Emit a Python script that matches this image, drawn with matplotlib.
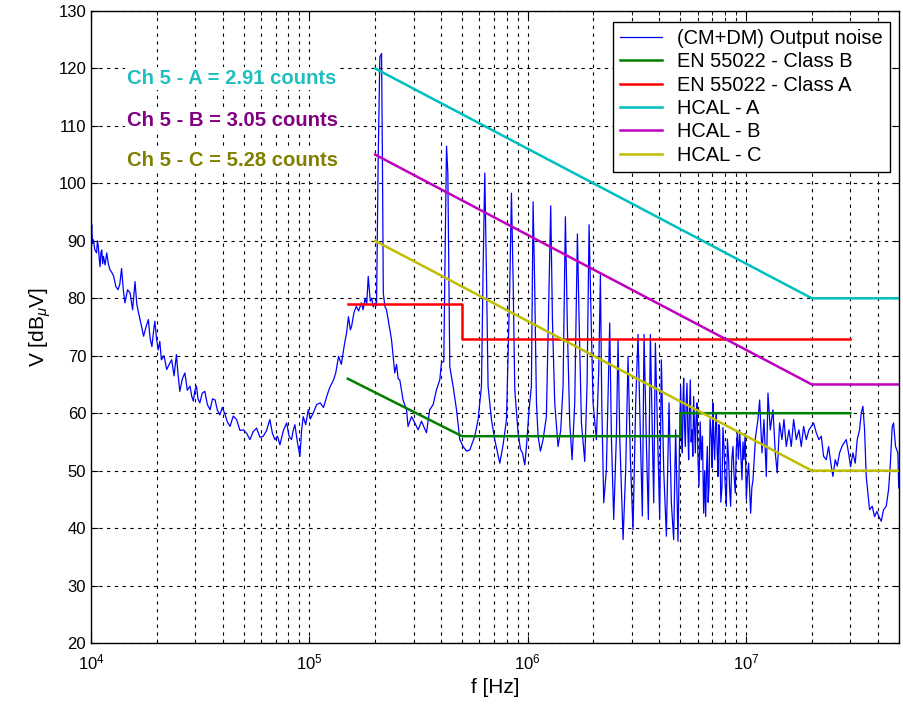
#!/usr/bin/env python3

# Output noise spectrum of the power supply against EN 55022 and HCAL limits.

import matplotlib
matplotlib.use('Agg')
import matplotlib.pyplot as plt

plt.rcParams['font.family'] = ['Liberation Sans', 'DejaVu Sans']
plt.rcParams['mathtext.fontset'] = 'custom'
plt.rcParams['mathtext.rm'] = 'Liberation Sans'
plt.rcParams['mathtext.it'] = 'Liberation Sans:italic'

# measured (CM+DM) output noise, frequency in kHz and level in dBuV
# (ten values per line, lines of both lists belong together)
noise_khz = [
    10.0, 10.07, 10.15, 10.25, 10.4, 10.6, 10.7, 10.8, 10.9, 11.0,
    11.1, 11.2, 11.3, 11.4, 11.6, 11.8, 12.0, 12.2, 12.45, 12.7,
    13.0, 13.3, 13.55, 13.8, 14.05, 14.3, 14.7, 15.1, 15.3, 15.5,
    15.7, 15.9, 16.2, 16.5, 16.95, 17.4, 17.85, 18.3, 18.65, 19.0,
    19.3, 19.6, 19.95, 20.3, 20.65, 21.0, 21.6, 22.2, 22.8, 23.4,
    24.0, 24.6, 25.0, 25.5, 26.2, 26.9, 27.6, 28.4, 28.9, 29.4,
    29.9, 30.4, 30.9, 31.5, 32.3, 33.2, 34.1, 35.1, 36.0, 37.0,
    37.9, 38.9, 39.9, 41.0, 42.1, 43.3, 44.8, 46.4, 48.1, 49.8,
    51.6, 53.4, 55.3, 57.3, 59.4, 61.5, 63.7, 65.9, 67.7, 69.5,
    71.4, 73.3, 76.0, 78.7, 80.7, 82.8, 84.3, 85.8, 88.1, 90.5,
    92.1, 93.7, 96.2, 98.8, 101, 104, 108, 112, 116, 120,
    124, 129, 132, 136, 140, 145, 148, 151, 154, 156,
    160, 164, 168, 173, 176, 180, 183, 186, 190, 193,
    196, 200, 203, 206.5, 210.2, 214, 216, 218, 221.6, 225.4,
    229.5, 237.7, 241.8, 246, 250.6, 255, 259.4, 268.5, 278.6, 283,
    293.6, 304, 314.8, 326, 343.6, 355.7, 368.7, 382, 395.5, 402.7,
    412.6, 418.3, 424.6, 430.5, 436.5, 439.5, 455, 471.8, 488.5, 505.8,
    524.2, 542.8, 572, 592.3, 613.8, 624.4, 635.6, 647, 658, 682,
    706, 744.7, 771, 799, 827, 842, 857, 872, 903, 926,
    945.5, 969, 986, 1014, 1039, 1058, 1076, 1096, 1115, 1143,
    1175, 1217, 1252, 1274, 1297, 1329, 1376, 1416, 1451, 1487,
    1519, 1557, 1596, 1641, 1688, 1718, 1761, 1824, 1869, 1909,
    1943, 1991, 2062, 2114, 2151, 2182, 2228, 2291, 2340, 2373,
    2415, 2475, 2546, 2591, 2637, 2732, 2809, 2879, 2951, 3034,
    3121, 3199, 3279, 3348, 3408, 3493, 3567, 3643, 3721, 3774,
    3841, 3950, 4020, 4091, 4193, 4312, 4435, 4546, 4657, 4756,
    4875, 4961, 5013, 5060, 5104, 5140, 5176, 5220, 5267, 5310,
    5360, 5410, 5455, 5500, 5552, 5600, 5650, 5700, 5750, 5800,
    5852, 5900, 5957, 6020, 6083, 6160, 6235, 6310, 6390, 6460,
    6526, 6580, 6642, 6700, 6760, 6840, 6928, 6990, 7051, 7110,
    7175, 7240, 7303, 7370, 7432, 7500, 7564, 7660, 7752, 7830,
    7917, 8010, 8114, 8210, 8316, 8400, 8493, 8600, 8705, 8810,
    8921, 9010, 9111, 9220, 9339, 9450, 9572, 9670, 9775, 9900,
    10020, 10140, 10270, 10380, 10490, 10620, 10750, 11050, 11330, 11530,
    11820, 12070, 12370, 12590, 12900, 13270, 13600, 13880, 14230, 14590,
    14900, 15270, 15710, 16100, 16500, 16970, 17450, 17890, 18330, 18860,
    19390, 19880, 20370, 20950, 21550, 22090, 22630, 23280, 23860, 24540,
    24970, 25590, 26140, 26790, 27460, 28040, 28740, 29450, 30080, 30830,
    31600, 32270, 33070, 33660, 34260, 34870, 35480, 36110, 36750, 37800,
    38740, 39700, 40550, 41560, 42590, 43810, 44900, 45700, 46670, 47330,
    48340, 49540, 50000,
]
noise_dbuv = [
    91.0, 92.8, 89.5, 90.2, 88.5, 87.9, 90.0, 89.0, 87.0, 85.5,
    88.0, 88.4, 86.0, 87.3, 85.8, 87.9, 86.0, 85.0, 84.5, 83.8,
    82.0, 81.5, 82.5, 85.2, 81.5, 79.2, 81.5, 80.9, 79.5, 78.0,
    80.5, 82.9, 79.0, 77.5, 75.5, 73.4, 75.0, 76.3, 73.0, 71.6,
    74.0, 76.0, 73.0, 71.0, 72.5, 69.3, 70.0, 67.6, 68.5, 69.3,
    66.5, 70.2, 67.0, 63.8, 66.0, 67.0, 64.0, 64.7, 63.0, 62.1,
    64.0, 64.7, 62.5, 61.8, 63.5, 63.8, 61.5, 60.6, 62.5, 62.3,
    60.5, 59.7, 61.0, 59.9, 58.5, 57.7, 59.5, 58.9, 57.0, 57.1,
    56.5, 55.4, 56.8, 57.4, 55.8, 56.0, 57.0, 58.9, 56.5, 55.4,
    56.0, 54.5, 57.0, 58.3, 56.0, 55.4, 57.0, 58.0, 55.0, 52.5,
    57.0, 59.4, 58.0, 60.6, 59.0, 60.0, 61.5, 61.8, 61.0, 62.9,
    64.5, 65.8, 67.0, 69.9, 68.5, 72.2, 74.0, 76.8, 74.5, 75.1,
    77.5, 78.6, 77.8, 79.2, 78.0, 80.0, 79.0, 83.8, 79.5, 80.0,
    78.5, 79.2, 78.7, 104.0, 122.0, 122.6, 104.0, 80.9, 78.6, 78.0,
    76.3, 72.8, 69.9, 67.0, 68.5, 66.0, 65.8, 62.3, 60.6, 57.7,
    59.4, 58.3, 57.1, 58.6, 56.6, 60.6, 61.5, 64.1, 65.8, 68.8,
    69.0, 88.0, 106.5, 101.8, 80.0, 68.1, 64.7, 60.6, 55.4, 54.2,
    53.4, 53.6, 56.0, 58.9, 64.7, 85.0, 101.8, 84.0, 64.7, 58.9,
    55.4, 51.3, 54.5, 58.9, 82.0, 98.3, 83.0, 64.1, 56.6, 53.7,
    53.1, 51.0, 54.2, 60.6, 64.7, 96.8, 82.0, 61.8, 56.0, 53.4,
    55.4, 59.4, 82.6, 96.1, 76.3, 61.8, 54.2, 57.1, 64.7, 94.2,
    74.5, 58.3, 51.9, 61.8, 91.2, 76.3, 58.3, 51.6, 65.2, 92.8,
    79.2, 61.8, 55.4, 67.6, 84.1, 61.8, 44.4, 50.2, 65.2, 75.7,
    56.0, 41.5, 56.0, 72.8, 56.0, 38.0, 50.2, 69.9, 52.0, 39.7,
    61.8, 73.7, 56.0, 42.1, 73.7, 54.8, 41.5, 73.7, 56.0, 44.4,
    72.2, 53.0, 41.5, 69.3, 50.2, 38.6, 61.8, 44.4, 38.0, 57.1,
    37.7, 56.0, 64.7, 56.0, 53.1, 62.0, 66.1, 58.0, 54.2, 61.5,
    65.2, 57.0, 51.9, 60.5, 65.8, 55.0, 57.1, 52.5, 62.9, 58.0,
    53.1, 59.0, 61.8, 52.0, 47.3, 58.5, 51.9, 56.0, 42.6, 50.0,
    42.0, 49.5, 54.2, 44.5, 47.3, 59.0, 56.0, 50.5, 61.8, 55.5,
    51.9, 57.5, 60.0, 53.5, 49.0, 58.0, 57.1, 44.5, 47.3, 57.5,
    54.2, 48.0, 43.8, 55.5, 51.9, 47.0, 43.8, 52.0, 54.2, 49.0,
    46.1, 53.5, 56.6, 52.0, 57.1, 53.0, 48.4, 55.0, 51.9, 56.5,
    45.0, 49.0, 51.3, 46.5, 42.6, 47.0, 48.4, 56.0, 58.9, 62.3,
    53.1, 58.9, 49.0, 63.5, 57.1, 60.6, 53.1, 49.6, 58.3, 55.4,
    58.9, 54.2, 57.1, 54.2, 58.9, 55.4, 57.1, 54.2, 57.7, 55.4,
    57.1, 57.7, 58.3, 56.6, 55.4, 56.0, 52.5, 51.9, 54.2, 50.8,
    49.0, 51.9, 50.8, 53.1, 54.2, 54.8, 55.4, 53.1, 50.7, 53.1,
    51.3, 55.4, 57.1, 60.0, 61.2, 57.1, 49.0, 46.1, 43.2, 43.8,
    42.0, 42.9, 42.0, 41.2, 43.2, 43.8, 46.7, 50.8, 57.7, 58.3,
    54.2, 53.1, 47.0,
]

# EN 55022 conducted limits (Hz, dBuV)
class_b_hz = [150e3, 500e3, 5e6, 5e6, 30e6]
class_b_db = [66, 56, 56, 60, 60]
class_a_hz = [150e3, 500e3, 500e3, 30e6]
class_a_db = [79, 79, 73, 73]

# HCAL limits (Hz, dBuV)
hcal_hz = [200e3, 20e6, 50e6]
hcal_a_db = [120, 80, 80]
hcal_b_db = [105, 65, 65]
hcal_c_db = [90, 50, 50]

counts_labels = ['Ch 5 - A = 2.91 counts', 'Ch 5 - B = 3.05 counts', 'Ch 5 - C = 5.28 counts']
counts_y = [118.3, 111.0, 103.9]
counts_colors = ['#1fbfbf', '#800080', '#808000']


def main(output='out.png'):
    fig = plt.figure(figsize=(9.04, 7.06), dpi=100)
    ax = fig.add_axes([0.1007, 0.0892, 0.8935, 0.8952])

    noise_hz = [f * 1e3 for f in noise_khz]
    ax.plot(noise_hz, noise_dbuv, color=(0, 0, 1), lw=0.9, label='(CM+DM) Output noise')
    ax.plot(class_b_hz, class_b_db, color=(0, 0.5, 0), lw=1.8, label='EN 55022 - Class B')
    ax.plot(class_a_hz, class_a_db, color=(1, 0, 0), lw=1.8, label='EN 55022 - Class A')
    ax.plot(hcal_hz, hcal_a_db, color=(0, 0.75, 0.75), lw=1.8, label='HCAL - A')
    ax.plot(hcal_hz, hcal_b_db, color=(0.75, 0, 0.75), lw=1.8, label='HCAL - B')
    ax.plot(hcal_hz, hcal_c_db, color=(0.75, 0.75, 0), lw=1.8, label='HCAL - C')

    ax.set_xscale('log')
    ax.set_xlim(1e4, 5e7)
    ax.set_ylim(20, 130)
    ax.set_yticks(range(20, 131, 10))

    # MATLAB-like dotted grid, minor lines only on the log axis
    ax.grid(True, which='major', color='black', linestyle=(0, (3, 4)), lw=0.8)
    ax.xaxis.grid(True, which='minor', color='black', linestyle=(0, (3, 4)), lw=0.8)
    ax.tick_params(which='both', direction='in', top=True, right=True, labelsize=12)
    ax.tick_params(which='major', length=5)
    ax.tick_params(which='minor', length=3)
    ax.tick_params(axis='x', which='major', pad=7)
    for spine in ax.spines.values():
        spine.set_linewidth(1.0)

    for text, y, c in zip(counts_labels, counts_y, counts_colors):
        ax.text(14.6e3, y, text, color=c, fontsize=14.6, fontweight='bold',
                ha='left', va='center',
                bbox=dict(facecolor='white', edgecolor='none', pad=1.5))

    leg = ax.legend(loc='upper right', bbox_to_anchor=(0.989, 0.983), fontsize=14.4,
                    fancybox=False, framealpha=1, edgecolor='black',
                    handlelength=2.1, handletextpad=0.75, labelspacing=0.22,
                    borderpad=0.35, borderaxespad=0)
    leg.get_frame().set_linewidth(1.0)

    ax.set_xlabel('f [Hz]', fontsize=15, labelpad=4)
    ax.set_ylabel(r'V [dB$_\mu$V]', fontsize=15)

    fig.savefig(output, dpi=100)


if __name__ == '__main__':
    main()
